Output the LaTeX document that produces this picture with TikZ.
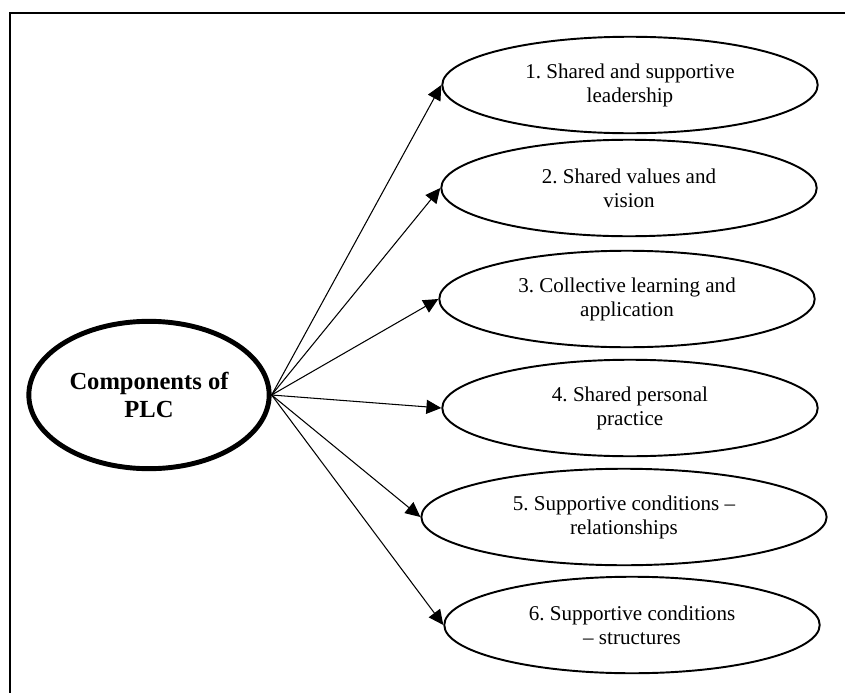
\documentclass[tikz,border=0pt]{standalone}
\usepackage{fontspec}
\setmainfont{Liberation Serif}
\usepackage{tikz}
\usetikzlibrary{shapes.geometric}
\usetikzlibrary{arrows.meta}
\usetikzlibrary{positioning}
\tikzstyle{component}=[draw, ellipse, line width=1.1pt, align=center,
  font=\fontsize{12}{13.7}\selectfont\frenchspacing, minimum width=214pt,
  minimum height=55pt, inner sep=0pt]
\tikzstyle{hub}=[draw, ellipse, line width=2.8pt, align=center,
  font=\fontsize{14}{16}\selectfont\bfseries, minimum width=137pt,
  minimum height=84pt, inner sep=0pt]
\tikzstyle{line} = [draw, line width=0.6pt, -{Triangle[length=8.5pt,width=8pt]}]
\newcommand{\component}[3]{node (c#1) [component,#2]
  {#3}}

\begin{document}
\begin{tikzpicture}[x=0.57pt,y=-0.57pt]
    \useasboundingbox (0,0) rectangle (845,693);
    % Frame (only top and left edges show)
    \draw[line width=1.1pt] (10,700) -- (10,13) -- (850,13);

    % Draw diagram elements
    \path (149,395) node (plc) [hub] {Components of\\PLC};
    \path (630,85)  \component{1}{}{1. Shared and supportive\\leadership};
    \path (629,188) \component{2}{}{2. Shared values and\\vision};
    \path (627,299) \component{3}{}{3. Collective learning and\\application};
    \path (630,408) \component{4}{}{4. Shared personal\\practice};
    \path (624,517) \component{5}{minimum width=231pt}{5. Supportive conditions --\\relationships};
    \path (632,625) \component{6}{}{6. Supportive conditions\\-- structures};

    % Draw arrows between elements
    \path [line] (plc.east) -- (c1.west);
    \path [line] (plc.east) -- (c2.west);
    \path [line] (plc.east) -- (c3.west);
    \path [line] (plc.east) -- (c4.west);
    \path [line] (plc.east) -- (c5.west);
    \path [line] (plc.east) -- (c6.west);
\end{tikzpicture}
\end{document}
